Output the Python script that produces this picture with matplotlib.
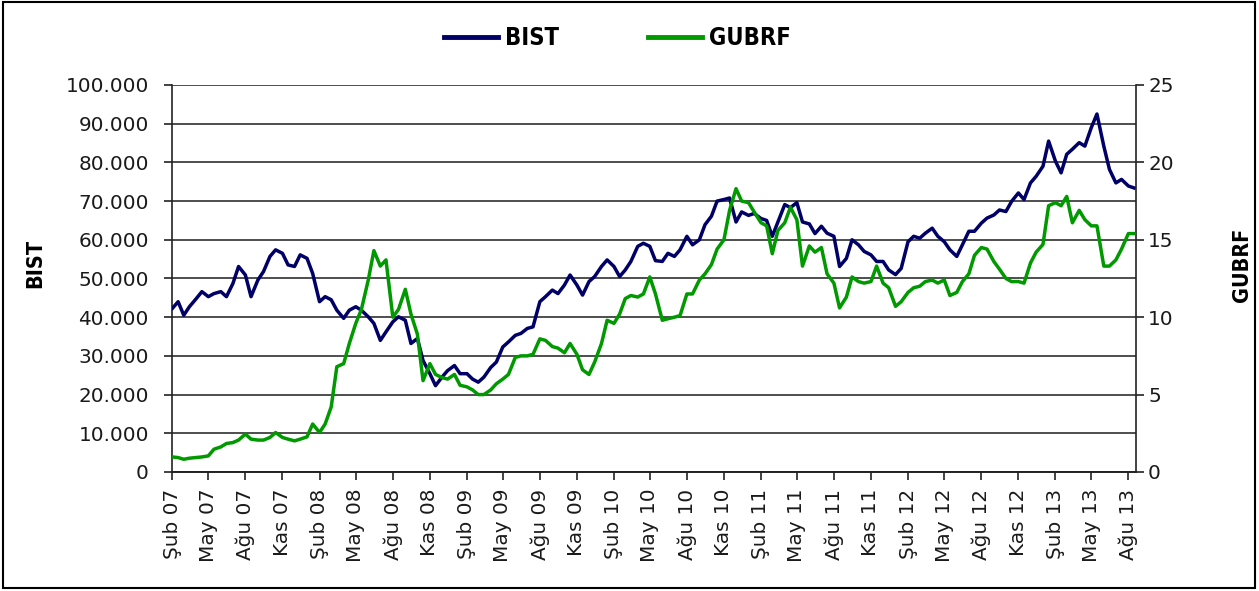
import pandas as pd
import matplotlib.pyplot as plt
from matplotlib.ticker import FuncFormatter, MultipleLocator
from matplotlib.lines import Line2D
from matplotlib.patches import Rectangle

# semi-monthly readings, Feb 2007 .. Aug 2013
dates = pd.date_range('2007-02-01', periods=158, freq='SMS')

# BIST index, thousands
bist = [
    42.3, 44.0, 40.5, 42.7, 44.8, 46.6, 45.3, 46.1, 46.6, 45.3, 48.7, 53.1, 50.9, 45.3,
    49.6, 51.8, 55.7, 57.4, 56.5, 53.5, 53.1, 56.1, 55.2, 51.3, 44.0, 45.3, 44.5,
    41.8, 39.7, 41.8, 42.7, 41.8, 40.1, 38.4, 34.0, 36.2, 38.8, 40.1, 39.2, 33.2, 34.5,
    28.8, 25.4, 22.3, 24.5, 26.2, 27.5, 25.4, 25.4, 24.0, 23.2, 24.5, 27.0,
    28.4, 32.3, 33.6, 35.3, 35.8, 37.1, 37.5, 44.0, 45.3, 47.0, 46.1, 48.3, 50.9, 48.3,
    45.7, 49.2, 50.5, 53.1, 54.8, 53.1, 50.5, 52.2, 54.4, 58.3, 59.1, 58.3, 54.6,
    54.4, 56.5, 55.7, 57.4, 60.9, 58.7, 60.0, 63.9, 66.1, 70.0, 70.4, 70.8, 64.6, 67.2,
    66.3, 66.8, 65.5, 65.0, 60.9, 64.6, 69.1, 68.3, 69.6, 64.6, 64.1, 61.6,
    63.5, 61.7, 60.9, 53.1, 55.2, 60.0, 58.7, 57.0, 56.1, 54.4, 54.4, 52.2, 51.0, 52.6,
    59.5, 60.9, 60.4, 61.7, 63.0, 60.9, 59.5, 57.4, 55.7, 58.7, 62.2, 62.2,
    64.3, 65.6, 66.4, 67.7, 67.3, 69.9, 72.1, 70.4, 74.7, 76.4, 79.0, 85.5, 80.3, 77.3,
    82.1, 83.4, 85.1, 84.2, 89.0, 92.5, 84.2, 78.2, 74.7, 75.6, 73.9, 73.4,
]

# GUBRF share price
gubrf = [
    0.97, 0.93, 0.82, 0.89, 0.93, 0.97, 1.04, 1.47, 1.62, 1.84, 1.90, 2.06, 2.45, 2.12,
    2.06, 2.06, 2.23, 2.55, 2.23, 2.12, 2.01, 2.12, 2.27, 3.10, 2.55, 3.10, 4.2,
    6.8, 7.0, 8.3, 9.6, 10.5, 12.4, 14.3, 13.3, 13.7, 10.0, 10.5, 11.8, 10.2, 8.9,
    5.9, 7.0, 6.3, 6.1, 6.0, 6.3, 5.6, 5.5, 5.3, 5.0, 5.0, 5.3,
    5.7, 6.0, 6.3, 7.4, 7.5, 7.5, 7.6, 8.6, 8.5, 8.1, 8.0, 7.7, 8.3, 7.6,
    6.6, 6.3, 7.1, 8.3, 9.8, 9.6, 10.2, 11.2, 11.4, 11.3, 11.5, 12.6, 11.5,
    9.8, 9.9, 10.0, 10.1, 11.5, 11.5, 12.4, 12.8, 13.4, 14.4, 15.0, 16.9, 18.3, 17.5,
    17.4, 16.8, 16.1, 15.9, 14.1, 15.6, 16.1, 17.1, 16.3, 13.3, 14.6, 14.2,
    14.5, 12.8, 12.2, 10.6, 11.3, 12.6, 12.3, 12.2, 12.3, 13.3, 12.2, 11.9, 10.7, 11.0,
    11.6, 11.9, 12.0, 12.3, 12.4, 12.2, 12.4, 11.4, 11.6, 12.3, 12.8, 14.0,
    14.5, 14.4, 13.6, 13.1, 12.5, 12.3, 12.3, 12.2, 13.5, 14.2, 14.7, 17.2, 17.4, 17.2,
    17.8, 16.1, 16.9, 16.3, 15.9, 15.9, 13.3, 13.3, 13.7, 14.4, 15.4, 15.4,
]

tick_dates = pd.date_range('2007-02-01', '2013-08-01', freq='3MS')
tr_months = {2: 'Şub', 5: 'May', 8: 'Ağu', 11: 'Kas'}
tick_labels = [f'{tr_months[d.month]} {d.year % 100:02d}' for d in tick_dates]

navy = '#000066'
green = '#009900'

fig = plt.figure(figsize=(12.59, 5.91), dpi=100)
ax = fig.add_axes([0.137, 0.2014, 0.765, 0.6548])
ax2 = ax.twinx()

ax.plot(dates, [v * 1000 for v in bist], color=navy, lw=2.5, zorder=3)
ax2.plot(dates, gubrf, color=green, lw=2.5, zorder=3)

ax.set_xlim(pd.Timestamp('2007-02-01'), pd.Timestamp('2013-08-19'))
ax.set_ylim(0, 100000)
ax2.set_ylim(0, 25)
ax.yaxis.set_major_locator(MultipleLocator(10000))
ax2.yaxis.set_major_locator(MultipleLocator(5))
ax.yaxis.set_major_formatter(FuncFormatter(lambda v, p: f'{int(v):,}'.replace(',', '.')))

ax.set_xticks(tick_dates)
ax.set_xticklabels(tick_labels, rotation=90)

ax.grid(axis='y', color='#303030', lw=1.2)
ax.set_axisbelow(True)

for a in (ax, ax2):
    a.spines['top'].set_visible(False)
    for s in a.spines.values():
        s.set_color('#222222')
        s.set_linewidth(1.2)
    a.tick_params(direction='out', length=6, width=1.2, color='#222222',
                  labelsize=14.4, labelcolor='#1a1a1a', pad=3)
ax.tick_params(axis='y', pad=11)
ax.tick_params(axis='x', pad=6)
ax2.spines['left'].set_visible(False)
ax.spines['right'].set_visible(False)

lab_font = dict(fontsize=15.5, fontweight='bold', fontstretch='condensed')
ax.set_ylabel('BIST', **lab_font)
ax2.set_ylabel('GUBRF', **lab_font)
ax.yaxis.set_label_coords(-0.132, 0.54)
ax2.yaxis.set_label_coords(1.10, 0.535)

handles = [Line2D([], [], color=navy, lw=3.5), Line2D([], [], color=green, lw=3.5)]
fig.legend(handles, ['BIST', 'GUBRF'], loc='center', bbox_to_anchor=(0.4905, 0.936),
           ncol=2, frameon=False, handlelength=2.3, handletextpad=0.3, columnspacing=3.75,
           prop=dict(size=17, weight='bold', stretch='condensed'))

fig.patches.append(Rectangle((0.0024, 0.005), 0.9944, 0.9916, transform=fig.transFigure,
                             fill=False, edgecolor='black', lw=1.5))

fig.savefig('out.png', dpi=100)
